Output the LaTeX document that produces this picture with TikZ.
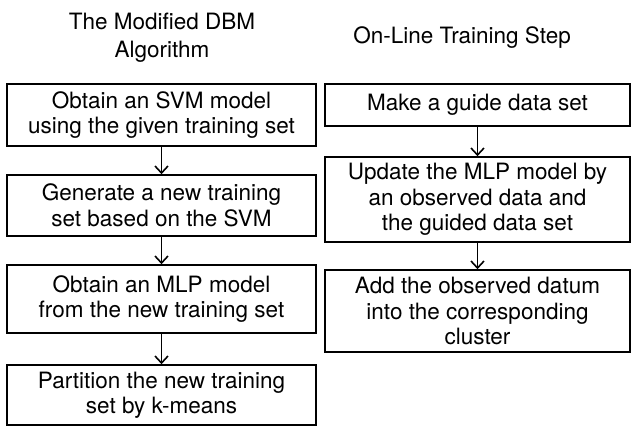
\documentclass[tikz,border=0pt]{standalone}
\usepackage{fontspec}
\setmainfont{TeX Gyre Heros}
\usetikzlibrary{arrows.meta}
\begin{document}
\begin{tikzpicture}[x=1pt,y=-1pt,
  box/.style={draw,line width=1.6pt,align=center,inner sep=0pt,font=\fontsize{22.5}{25.5}\selectfont},
  title/.style={align=center,inner sep=0pt,font=\fontsize{22.5}{28}\selectfont},
  arr/.style={line width=1.6pt,-{Straight Barb[length=7pt,width=13pt,line width=1.6pt]}}]
\useasboundingbox (0,0) rectangle (632,428);
\node[title] (t1) at (162,38) {The Modified DBM\\Algorithm};
\node[title] (t2) at (462,38) {On-Line Training Step};
\node[box,minimum width=309pt,minimum height=62pt] (b1) at (161.5,115) {Obtain an SVM model\\using the given training set};
\node[box,minimum width=309pt,minimum height=61pt] (b2) at (161.5,205.5) {Generate a new training\\set based on the SVM};
\node[box,minimum width=309pt,minimum height=68pt] (b3) at (161.5,299) {Obtain an MLP model\\from the new training set};
\node[box,minimum width=309pt,minimum height=60pt] (b4) at (161.5,395) {Partition the new training\\set by k-means};
\node[box,minimum width=305pt,minimum height=42pt] (r1) at (477.5,105) {Make a guide data set};
\node[box,minimum width=305pt,minimum height=85pt] (r2) at (477.5,199.5) {Update the MLP model by\\an observed data and\\the guided data set};
\node[box,minimum width=305pt,minimum height=82pt] (r3) at (477.5,311) {Add the observed datum\\into the corresponding\\cluster};
\draw[arr] (b1.south) -- (b2.north);
\draw[arr] (b2.south) -- (b3.north);
\draw[arr] (b3.south) -- (b4.north);
\draw[arr] (r1.south) -- (r2.north);
\draw[arr] (r2.south) -- (r3.north);
\end{tikzpicture}
\end{document}
